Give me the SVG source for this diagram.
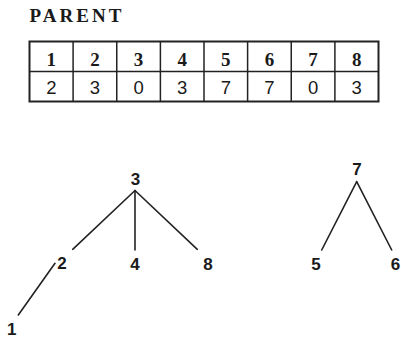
<svg xmlns="http://www.w3.org/2000/svg" width="401" height="338" viewBox="0 0 401 338">
  <style>
    .title { font-family: "Liberation Serif", "Times New Roman", serif; font-weight: bold; font-size: 19px; fill: #1a1a1a; }
    .hdr { font-family: "Liberation Serif", "Times New Roman", serif; font-weight: bold; font-size: 19px; fill: #1a1a1a; text-anchor: middle; }
    .val { font-family: "Liberation Sans", Arial, sans-serif; font-size: 18.5px; fill: #1a1a1a; text-anchor: middle; }
    .lbl { font-family: "Liberation Sans", Arial, sans-serif; font-weight: bold; font-size: 17px; fill: #1a1a1a; text-anchor: middle; }
    .grid { stroke: #222; stroke-width: 1.5; fill: none; }
    .frame { stroke: #222; stroke-width: 2; fill: none; }
    .edge { stroke: #222; stroke-width: 1.6; fill: none; stroke-linecap: round; }
  </style>
  <rect width="401" height="338" fill="#fff"/>

  <!-- PARENT array -->
  <g id="parent-array">
    <text class="title" x="29.5" y="22" textLength="92" lengthAdjust="spacing">PARENT</text>
    <rect class="frame" x="29.5" y="41.5" width="349" height="60"/>
    <line class="grid" x1="29.5" y1="71.5" x2="378.5" y2="71.5"/>
    <line class="grid" x1="73.1" y1="41.5" x2="73.1" y2="101.5"/>
    <line class="grid" x1="116.75" y1="41.5" x2="116.75" y2="101.5"/>
    <line class="grid" x1="160.4" y1="41.5" x2="160.4" y2="101.5"/>
    <line class="grid" x1="204" y1="41.5" x2="204" y2="101.5"/>
    <line class="grid" x1="247.6" y1="41.5" x2="247.6" y2="101.5"/>
    <line class="grid" x1="291.25" y1="41.5" x2="291.25" y2="101.5"/>
    <line class="grid" x1="334.9" y1="41.5" x2="334.9" y2="101.5"/>
    <g>
      <text class="hdr" x="51.3" y="65.5">1</text>
      <text class="hdr" x="94.9" y="65.5">2</text>
      <text class="hdr" x="138.6" y="65.5">3</text>
      <text class="hdr" x="182.2" y="65.5">4</text>
      <text class="hdr" x="225.8" y="65.5">5</text>
      <text class="hdr" x="269.4" y="65.5">6</text>
      <text class="hdr" x="313.1" y="65.5">7</text>
      <text class="hdr" x="356.7" y="65.5">8</text>
    </g>
    <g>
      <text class="val" x="51.3" y="94">2</text>
      <text class="val" x="94.9" y="94">3</text>
      <text class="val" x="138.6" y="94">0</text>
      <text class="val" x="182.2" y="94">3</text>
      <text class="val" x="225.8" y="94">7</text>
      <text class="val" x="269.4" y="94">7</text>
      <text class="val" x="313.1" y="94">0</text>
      <text class="val" x="356.7" y="94">3</text>
    </g>
  </g>

  <!-- tree edges -->
  <g id="connectors">
    <line class="edge" x1="135" y1="190.5" x2="72.7" y2="249.3"/>
    <line class="edge" x1="135" y1="190.5" x2="135" y2="250"/>
    <line class="edge" x1="135" y1="190.5" x2="197.3" y2="249.3"/>
    <line class="edge" x1="55" y1="263.3" x2="18.3" y2="315"/>
    <line class="edge" x1="356.7" y1="181.7" x2="321.7" y2="250"/>
    <line class="edge" x1="356.7" y1="181.7" x2="391.7" y2="250"/>
  </g>

  <!-- tree nodes -->
  <g id="node-3"><text class="lbl" x="135.5" y="184.5">3</text></g>
  <g id="node-2"><text class="lbl" x="62" y="268.5">2</text></g>
  <g id="node-4"><text class="lbl" x="135" y="270">4</text></g>
  <g id="node-8"><text class="lbl" x="208" y="270">8</text></g>
  <g id="node-1"><text class="lbl" x="11.7" y="335">1</text></g>
  <g id="node-7"><text class="lbl" x="357" y="175">7</text></g>
  <g id="node-5"><text class="lbl" x="316" y="270">5</text></g>
  <g id="node-6"><text class="lbl" x="395.5" y="270">6</text></g>
</svg>
